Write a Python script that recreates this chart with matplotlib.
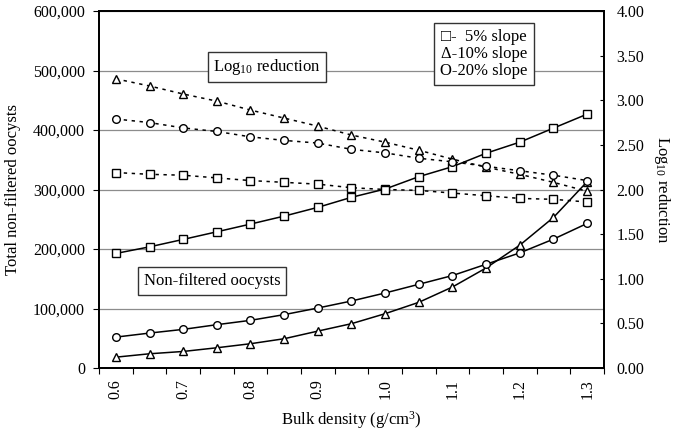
import numpy as np
import matplotlib.pyplot as plt

plt.rcParams['font.family'] = ['Liberation Serif', 'DejaVu Sans']
plt.rcParams['mathtext.default'] = 'regular'
plt.rcParams['font.size'] = 11.5

# bulk density categories (g/cm3)
density = [0.60, 0.65, 0.70, 0.75, 0.80, 0.85, 0.90, 0.95,
           1.00, 1.05, 1.10, 1.15, 1.20, 1.25, 1.30]

# total non-filtered oocysts (left axis)
nf_5 = [192500, 203600, 216100, 228900, 241900, 255300, 270000, 286900,
        300800, 321600, 338400, 361000, 379600, 403200, 426700]
nf_10 = [18200, 23900, 27800, 34000, 40800, 49200, 62000, 74500,
         91300, 110400, 136200, 168200, 206500, 253100, 313200]
nf_20 = [51900, 58700, 64900, 72800, 80100, 89700, 100800, 112600,
         126100, 140700, 155400, 174400, 193500, 216600, 243000]

# log10 reduction (right axis)
log_5 = [2.19, 2.17, 2.16, 2.13, 2.10, 2.08, 2.06, 2.02,
         2.00, 1.99, 1.96, 1.93, 1.90, 1.89, 1.86]
log_10 = [3.24, 3.16, 3.07, 2.99, 2.89, 2.80, 2.71, 2.61,
          2.53, 2.44, 2.34, 2.25, 2.17, 2.08, 1.98]
log_20 = [2.79, 2.75, 2.69, 2.65, 2.59, 2.55, 2.52, 2.45,
          2.41, 2.35, 2.31, 2.26, 2.21, 2.16, 2.10]

fig = plt.figure(figsize=(6.78, 4.32), dpi=100)
ax = fig.add_axes([99/678, 1-368/432, 505/678, 357/432])
ax2 = ax.twinx()

mk = dict(color='black', lw=1.1, markersize=5.5, markerfacecolor='white',
          markeredgecolor='black', markeredgewidth=1.0)
dot = (0, (2.2, 3.0))

ax.plot(density, nf_5, marker='s', ls='-', **mk)
ax.plot(density, nf_10, marker='^', ls='-', **mk)
ax.plot(density, nf_20, marker='o', ls='-', **mk)

ax2.plot(density, log_5, marker='s', ls=dot, **mk)
ax2.plot(density, log_10, marker='^', ls=dot, **mk)
ax2.plot(density, log_20, marker='o', ls=dot, **mk)

ax.set_xlim(0.575, 1.325)
ax.set_ylim(0, 600000)
ax2.set_ylim(0, 4)

ax.set_yticks(np.arange(0, 600001, 100000))
ax.set_yticklabels(['{:,}'.format(v) for v in range(0, 600001, 100000)])
ax.yaxis.grid(True, color='#8c8c8c', lw=0.9)
ax.set_axisbelow(True)

ax2.set_yticks(np.arange(0, 4.01, 0.5))
ax2.set_yticklabels(['{:.2f}'.format(v) for v in np.arange(0, 4.01, 0.5)])

xt = [0.6, 0.7, 0.8, 0.9, 1.0, 1.1, 1.2, 1.3]
ax.set_xticks(xt)
ax.set_xticklabels(['{:.1f}'.format(v) for v in xt], rotation=90)
ax.set_xticks(np.arange(0.575, 1.33, 0.05), minor=True)

ax.tick_params(axis='x', which='major', length=0, pad=8)
ax.tick_params(axis='x', which='minor', length=4, direction='out', width=0.8)
ax.tick_params(axis='y', length=4, direction='out', width=0.8, pad=6)
ax2.tick_params(axis='y', length=3, direction='in', width=0.8, pad=9)

for a in (ax, ax2):
    for s in a.spines.values():
        s.set_linewidth(1.3)
        s.set_color('black')

ax.set_ylabel('Total non-filtered oocysts', fontsize=12, labelpad=9)
ax.set_xlabel('Bulk density (g/cm$^3$)', fontsize=12, labelpad=7)
ax2.set_ylabel('Log$_{10}$ reduction', fontsize=12, rotation=270, labelpad=20)

fig.text(267/678, 1-67/432, 'Log$_{10}$ reduction', ha='center', va='center',
         fontsize=12, zorder=10,
         bbox=dict(boxstyle='square,pad=0.3', facecolor='white',
                   edgecolor='#333333', lw=1.0))
fig.text(212/678, 1-281/432, 'Non-filtered oocysts', ha='center', va='center',
         fontsize=12, zorder=10,
         bbox=dict(boxstyle='square,pad=0.35', facecolor='white',
                   edgecolor='#333333', lw=1.0))
fig.text(484/678, 1-54/432, '\u25a1-  5% slope\n\u0394-10% slope\nO-20% slope',
         ha='center', va='center', fontsize=12, linespacing=1.05, zorder=10,
         bbox=dict(boxstyle='square,pad=0.4', facecolor='white',
                   edgecolor='#333333', lw=1.0))

fig.savefig('out.png', dpi=100)
